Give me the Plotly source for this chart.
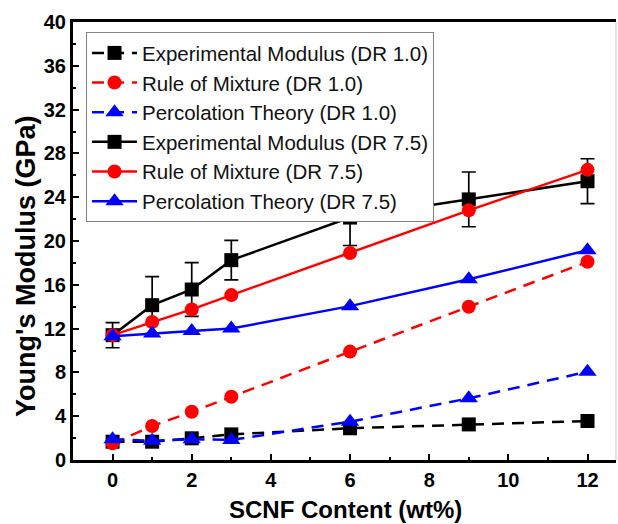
import plotly.graph_objects as go

x = [0, 1, 2, 3, 6, 9, 12]

exp_dr10 = [1.67, 1.67, 1.98, 2.34, 2.9, 3.25, 3.56]
rom_dr10 = [1.52, 3.1, 4.4, 5.78, 9.9, 14.0, 18.1]
perc_dr10 = [1.9, 1.76, 1.9, 1.83, 3.5, 5.63, 8.06]

exp_dr75 = [11.4, 14.14, 15.57, 18.25, 22.14, 23.8, 25.46]
exp_dr75_err = [1.15, 2.6, 2.45, 1.8, 2.55, 2.5, 2.05]
rom_dr75 = [11.4, 12.6, 13.75, 15.06, 18.9, 22.8, 26.5]
perc_dr75 = [11.3, 11.56, 11.77, 12.0, 14.05, 16.5, 19.16]

names = [
    "Experimental Modulus (DR 1.0)",
    "Rule of Mixture (DR 1.0)",
    "Percolation Theory (DR 1.0)",
    "Experimental Modulus (DR 7.5)",
    "Rule of Mixture (DR 7.5)",
    "Percolation Theory (DR 7.5)",
]

x_ticks = [0, 2, 4, 6, 8, 10, 12]
y_ticks = [0, 4, 8, 12, 16, 20, 24, 28, 32, 36, 40]
x_title = "SCNF Content (wt%)"
y_title = "Young's Modulus (GPa)"

fig = go.Figure()

series = [
    (exp_dr10, "black", "square", "dash", None),
    (rom_dr10, "#ff0000", "circle", "dash", None),
    (perc_dr10, "#0000ff", "triangle-up", "dash", None),
    (exp_dr75, "black", "square", "solid", exp_dr75_err),
    (rom_dr75, "#ff0000", "circle", "solid", None),
    (perc_dr75, "#0000ff", "triangle-up", "solid", None),
]

for name, (vals, col, sym, dash, err) in zip(names, series):
    fig.add_trace(go.Scatter(
        x=x, y=vals, name=name, mode="lines+markers",
        line=dict(color=col, width=2.5, dash=dash if dash == "solid" else "12px,8px"),
        marker=dict(symbol=sym, color=col, size=14 if sym != "triangle-up" else 16),
        error_y=dict(type="data", array=err, visible=True, color="black",
                     thickness=1.7, width=7) if err else None,
    ))

fig.update_layout(
    width=618, height=524,
    margin=dict(l=73, r=2, t=22, b=64),
    plot_bgcolor="white", paper_bgcolor="white",
    font=dict(family="Arial, Liberation Sans, sans-serif", color="black"),
    showlegend=True,
    legend=dict(
        x=0.024, y=0.977, xanchor="left", yanchor="top",
        bordercolor="#808080", borderwidth=1, bgcolor="white",
        font=dict(size=20.5, color="#111"),
        tracegroupgap=0, itemwidth=45,
    ),
    xaxis=dict(
        range=[-1, 12.72], tickvals=x_ticks, automargin=False,
        ticks="inside", ticklen=6, tickwidth=2, tickcolor="black",
        minor=dict(dtick=1, ticks="inside", ticklen=3, tickwidth=2, tickcolor="black"),
        showline=True, linewidth=3, linecolor="black", mirror=True,
        showgrid=False, zeroline=False,
        tickfont=dict(size=20, weight="bold"),
    ),
    yaxis=dict(
        range=[0, 40], tickvals=y_ticks, automargin=False,
        ticks="inside", ticklen=6, tickwidth=2, tickcolor="black",
        minor=dict(dtick=2, ticks="inside", ticklen=3, tickwidth=2, tickcolor="black"),
        showline=True, linewidth=3, linecolor="black",
        showgrid=False, zeroline=False,
        tickfont=dict(size=20, weight="bold"),
    ),
    annotations=[
        dict(text="<b>" + x_title + "</b>", xref="paper", yref="paper",
             x=(345 - 73) / 543, y=-(509 - 460) / 438, xanchor="center", yanchor="middle",
             showarrow=False, font=dict(size=24)),
        dict(text="<b>" + y_title + "</b>", xref="paper", yref="paper",
             x=-(73 - 26) / 543, y=(460 - 267) / 438, xanchor="center", yanchor="middle",
             textangle=-90, showarrow=False, font=dict(size=27)),
    ],
    shapes=[dict(type="line", xref="paper", yref="paper", x0=1, x1=1, y0=0, y1=1,
                 line=dict(color="#c8c8c8", width=1))],
)

fig.write_html("out.html", config={"displayModeBar": False},
               post_script="document.body.style.margin='0';document.body.style.overflow='hidden';")
